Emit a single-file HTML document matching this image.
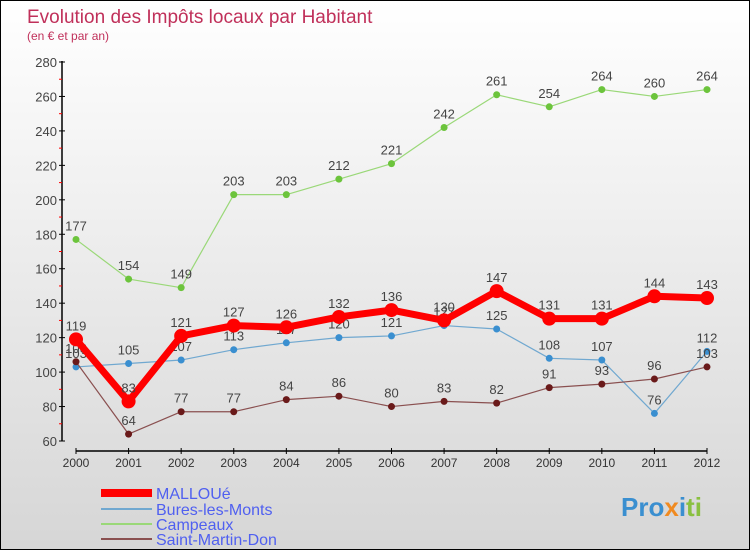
<!DOCTYPE html>
<html><head><meta charset="utf-8"><style>
body{margin:0}
#c{width:750px;height:550px;position:relative;box-sizing:border-box;border:1px solid #000;background:linear-gradient(#fff,#d6d6d6);font-family:"Liberation Sans",sans-serif;overflow:hidden}
svg{position:absolute;left:0;top:0}
</style></head><body>
<div id="c">
<svg id="s" width="750" height="550">
<text x="26" y="22" font-size="19" fill="#c0305a">Evolution des Impôts locaux par Habitant</text>
<text x="26" y="39" font-size="12" fill="#c0305a">(en € et par an)</text>
<text x="620" y="515" font-size="26" font-weight="bold" fill="#3a8fd0">Pro<tspan fill="#f08a20">x</tspan><tspan fill="#3a8fd0">i</tspan><tspan fill="#8ac040">ti</tspan></text>
</svg></div>
<script>
const years=[2000,2001,2002,2003,2004,2005,2006,2007,2008,2009,2010,2011,2012];
const yTicks=[60,80,100,120,140,160,180,200,220,240,260,280];
const malloue=[119,83,121,127,126,132,136,130,147,131,131,144,143];
const bures=[103,105,107,113,117,120,121,127,125,108,107,76,112];
const campeaux=[177,154,149,203,203,212,221,242,261,254,264,260,264];
const stmartin=[106,64,77,77,84,86,80,83,82,91,93,96,103];
const NS='http://www.w3.org/2000/svg';
const s=document.getElementById('s');
const X=i=>75+i*(706-75)/(years.length-1);
const Y=v=>440-(v-60)*(379/220);
function el(t,a,p){const e=document.createElementNS(NS,t);for(const k in a)e.setAttribute(k,a[k]);(p||s).appendChild(e);return e;}
let ax=el('line',{x1:61,y1:60,x2:61,y2:440,stroke:'#000','stroke-width':1.5});


let xa=el('line',{x1:75,y1:450,x2:706,y2:450,stroke:'#000','stroke-width':1.5});


yTicks.forEach((v,k)=>{
 el('line',{x1:58,x2:64,y1:Y(v),y2:Y(v),stroke:'#000'});
 if(k<yTicks.length-1)el('line',{x1:58,x2:61,y1:Y(v+10),y2:Y(v+10),stroke:'#f00'});
 const t=el('text',{x:56,y:Y(v)+5,'text-anchor':'end','font-size':13,fill:'#444'});t.textContent=v;
 
 
});
years.forEach((y,i)=>{
 el('line',{x1:X(i),x2:X(i),y1:447,y2:453,stroke:'#000'});
 const t=el('text',{x:X(i),y:466,'text-anchor':'middle','font-size':12,fill:'#333'});t.textContent=y;
 
 
});
function series(d,col,dot,w,r,name){
 const g=el('g',{});
 
 
 el('polyline',{points:d.map((v,i)=>X(i)+','+Y(v)).join(' '),fill:'none',stroke:col,'stroke-width':w,'stroke-linejoin':'round'},g);
 d.forEach((v,i)=>{
  const c=el('circle',{cx:X(i),cy:Y(v),r:r,fill:dot},g);
  
  
  const t=el('text',{x:X(i),y:Y(v)-9,'text-anchor':'middle','font-size':13,fill:'#444'},g);t.textContent=v;
 });
}
series(campeaux,'#9ad878','#6cc43c',1.2,3.5,'campeaux-series');
series(bures,'#70a8d0','#3a8fd0',1.2,3.5,'bures-series');
series(stmartin,'#8a5050','#6a1a1a',1.2,3.5,'saint-martin-series');
series(malloue,'#f00','#f00',7,7,'malloue-series');
const leg=[['MALLOUé','#f00',8],['Bures-les-Monts','#70a8d0',2],['Campeaux','#9ad878',2],['Saint-Martin-Don','#8a5050',2]];
const ly=[492,508,523,538];
leg.forEach((l,i)=>{
 const g=el('g',{});
 
 
 el('line',{x1:100,x2:151,y1:ly[i],y2:ly[i],stroke:l[1],'stroke-width':l[2]},g);
 const t=el('text',{x:155,y:ly[i]+6,'font-size':16,fill:'#5060f0'},g);t.textContent=l[0];
});
</script>
</body></html>
